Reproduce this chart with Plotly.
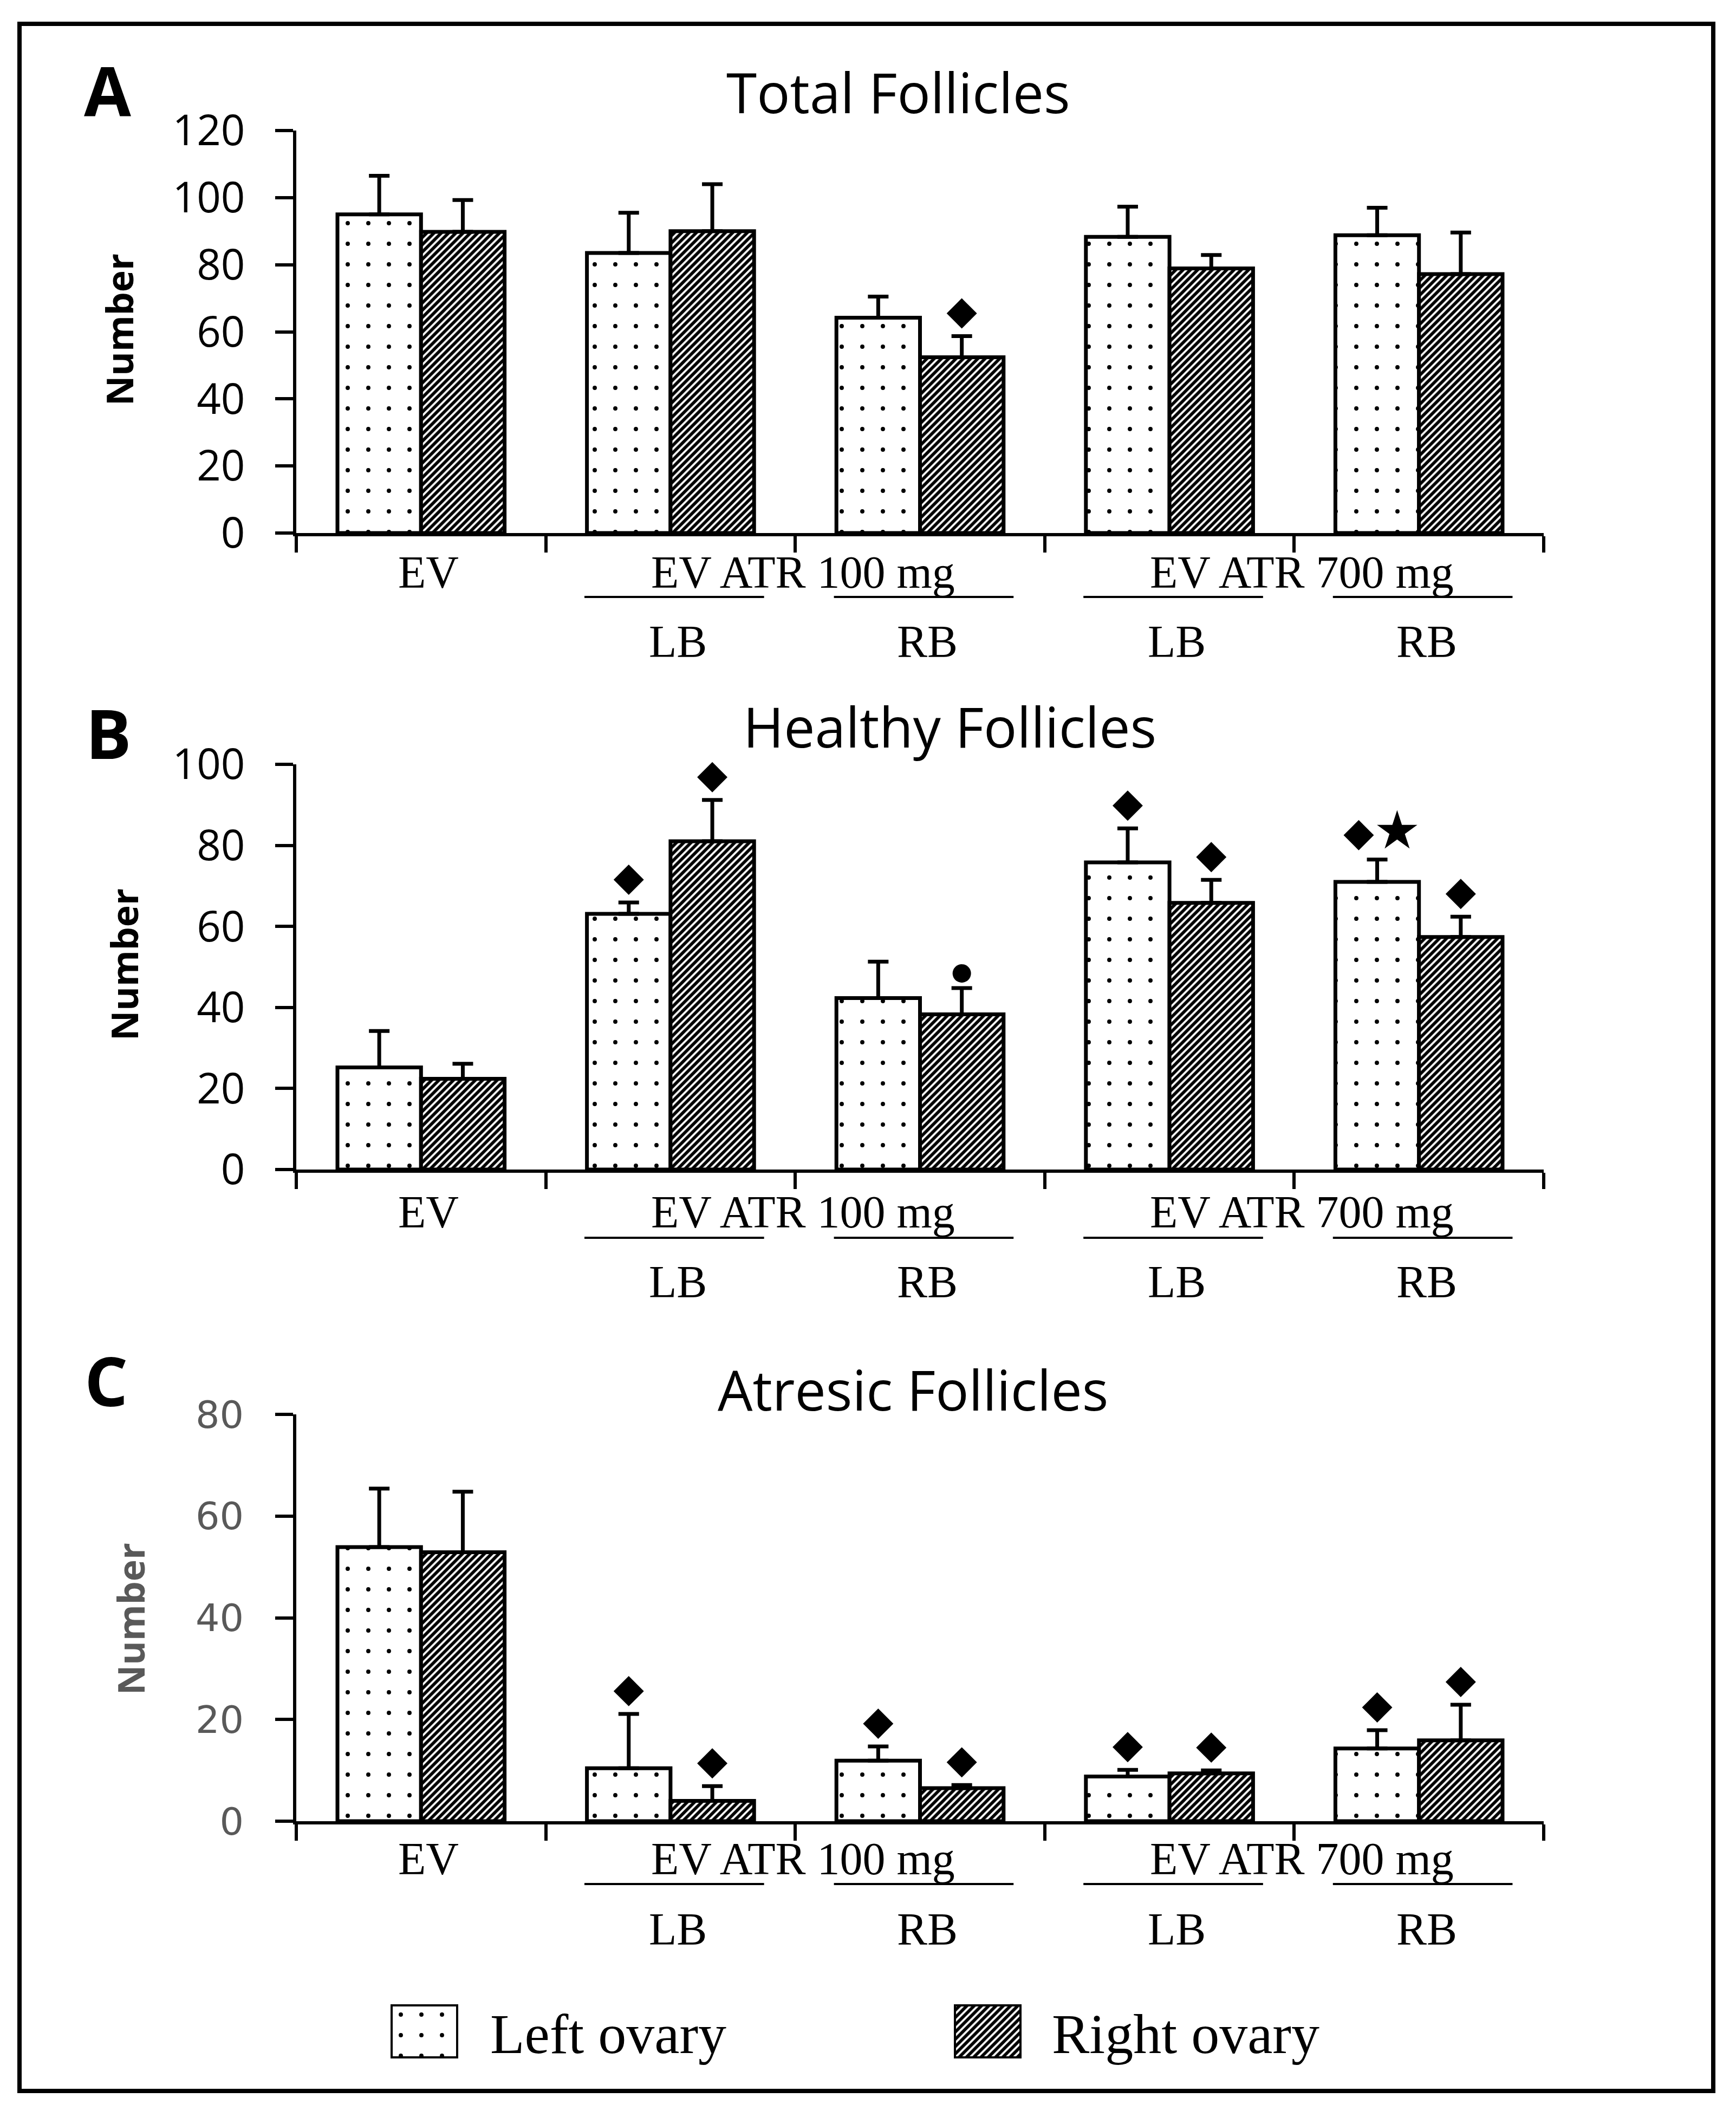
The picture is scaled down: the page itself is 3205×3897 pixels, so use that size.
import plotly.graph_objects as go

W, H = 3205, 3897

# ---------------- data ----------------
categories = ["EV", "EV ATR 100 mg LB", "EV ATR 100 mg RB", "EV ATR 700 mg LB", "EV ATR 700 mg RB"]
group_labels = ["EV ATR 100 mg", "EV ATR 700 mg"]
side_labels = ["LB", "RB", "LB", "RB"]
series_names = ["Left ovary", "Right ovary"]

total_left = [95.0, 83.5, 64.2, 88.3, 88.8]
total_left_err = [11.5, 12.0, 6.3, 9.0, 8.2]
total_right = [89.8, 90.0, 52.4, 78.9, 77.2]
total_right_err = [9.5, 14.0, 6.3, 4.0, 12.4]
total_left_sig = ["", "", "", "", ""]
total_right_sig = ["", "", "d", "", ""]

healthy_left = [25.2, 63.1, 42.3, 75.8, 71.0]
healthy_left_err = [9.0, 2.8, 9.0, 8.4, 5.5]
healthy_right = [22.4, 81.0, 38.3, 65.8, 57.4]
healthy_right_err = [3.7, 10.2, 6.5, 5.7, 5.0]
healthy_left_sig = ["", "d", "", "d", "ds"]
healthy_right_sig = ["", "d", "c", "d", "d"]

atresic_left = [53.9, 10.4, 11.9, 8.8, 14.3]
atresic_left_err = [11.5, 10.7, 2.8, 1.3, 3.6]
atresic_right = [52.9, 4.0, 6.5, 9.4, 15.9]
atresic_right_err = [11.9, 2.9, 0.6, 0.6, 7.0]
atresic_left_sig = ["", "d", "d", "d", "d"]
atresic_right_sig = ["", "d", "d", "d", "d"]

titles = ["Total Follicles", "Healthy Follicles", "Atresic Follicles"]
letters = ["A", "B", "C"]
y_title = "Number"
y_max = [120, 100, 80]
y_dtick = 20

# ---------------- layout geometry (pixels) ----------------
def px(x):
    return x / W

def py(y):
    return 1 - y / H

X0, X1 = 547, 2850
panel_geo = [
    dict(top=241, bot=984, title=(1658, 169), letter=(198, 165), ylab=(219, 609),
         lab=72, uline=118, side=201),
    dict(top=1411, bot=2159, title=(1753, 1341), letter=(200, 1352), ylab=(228, 1780),
         lab=78, uline=126, side=207),
    dict(top=2611, bot=3362, title=(1685, 2564), letter=(196, 2547), ylab=(240, 2989),
         lab=69, uline=116, side=199),
]

BARGAP = 0.33
HALF = (1 - BARGAP) / 4  # centre offset of each bar inside a group
LW = 7

panels = [
    (total_left, total_left_err, total_right, total_right_err, total_left_sig, total_right_sig),
    (healthy_left, healthy_left_err, healthy_right, healthy_right_err, healthy_left_sig, healthy_right_sig),
    (atresic_left, atresic_left_err, atresic_right, atresic_right_err, atresic_left_sig, atresic_right_sig),
]

dots = dict(shape=".", size=38, solidity=0.034, fgcolor="black", bgcolor="white", fillmode="replace")
stripes = dict(shape="/", size=9.5, solidity=0.6, fgcolor="black", bgcolor="white", fillmode="replace")
patterns = [dots, stripes]

fig = go.Figure()
xpos = list(range(len(categories)))
annotations = []
shapes = []

for p, (lv, le, rv, re, ls, rs) in enumerate(panels):
    g = panel_geo[p]
    sfx = "" if p == 0 else str(p + 1)
    xa, ya = "x" + sfx, "y" + sfx
    for s, (vals, errs) in enumerate([(lv, le), (rv, re)]):
        fig.add_trace(go.Bar(
            x=xpos, y=vals, name=series_names[s], xaxis=xa, yaxis=ya,
            marker=dict(color="white", pattern=patterns[s], line=dict(color="black", width=LW)),
            error_y=dict(type="data", symmetric=False, array=errs, arrayminus=[0] * len(errs),
                         color="black", thickness=LW, width=19),
            showlegend=False,
        ))
    ppu = (g["bot"] - g["top"]) / y_max[p]
    mk = {"d": ([], [], "diamond", 43), "s": ([], [], "star", 56), "c": ([], [], "circle", 34)}
    for s, (vals, errs, sig) in enumerate([(lv, le, ls), (rv, re, rs)]):
        sgn = -1 if s == 0 else 1
        for i, code in enumerate(sig):
            if not code:
                continue
            top = vals[i] + errs[i]
            xc = xpos[i] + sgn * HALF
            if code == "d":
                mk["d"][0].append(xc); mk["d"][1].append(top + 42 / ppu)
            elif code == "c":
                mk["c"][0].append(xc); mk["c"][1].append(top + 27 / ppu)
            elif code == "ds":
                mk["d"][0].append(xc - 0.074); mk["d"][1].append(top + 45 / ppu)
                mk["s"][0].append(xc + 0.08); mk["s"][1].append(top + 52 / ppu)
    for key, (mx, my, sym, sz) in mk.items():
        if mx:
            fig.add_trace(go.Scatter(x=mx, y=my, mode="markers", xaxis=xa, yaxis=ya,
                                     marker=dict(symbol=sym, size=sz, color="black", line=dict(width=0)),
                                     cliponaxis=False, showlegend=False, hoverinfo="skip"))

    gray = p == 2
    tickfont = dict(family="DejaVu Sans", size=70, color="#595959") if gray else \
        dict(family="Open Sans", size=78, color="black")
    fig.update_layout({
        ("xaxis" + sfx): dict(domain=[px(X0), px(X1)], anchor=ya, range=[-0.5, len(categories) - 0.5],
                               tickvals=[i - 0.5 for i in range(len(categories) + 1)],
                               showticklabels=False, ticks="outside", ticklen=30, tickwidth=6,
                               tickcolor="black", showline=True, linecolor="black", linewidth=6,
                               showgrid=False, zeroline=False, fixedrange=True, automargin=False),
        ("yaxis" + sfx): dict(domain=[py(g["bot"]), py(g["top"])], anchor=xa, range=[0, y_max[p]],
                               dtick=y_dtick, tick0=0, ticks="outside", ticklen=33, tickwidth=6,
                               tickcolor="black", showline=True, linecolor="black", linewidth=6,
                               showgrid=False, zeroline=False, tickfont=tickfont,
                               ticklabelstandoff=40 if not gray else 44, fixedrange=True,
                               automargin=False),
    })

    # titles, letters, y title
    annotations.append(dict(text=titles[p], x=px(g["title"][0]), y=py(g["title"][1]), xref="paper",
                            yref="paper", showarrow=False, xanchor="center", yanchor="middle",
                            font=dict(family="Open Sans", size=102, color="black")))
    annotations.append(dict(text="<b>" + letters[p] + "</b>", x=px(g["letter"][0]), y=py(g["letter"][1]),
                            xref="paper", yref="paper", showarrow=False, xanchor="center",
                            yanchor="middle", font=dict(family="Open Sans", size=126, color="black")))
    annotations.append(dict(text="<b>" + y_title + "</b>", x=px(g["ylab"][0]), y=py(g["ylab"][1]),
                            xref="paper", yref="paper", showarrow=False, textangle=-90,
                            xanchor="center", yanchor="middle",
                            font=dict(family="Open Sans", size=68, color="#595959" if gray else "black")))

    # category labels
    lab_font = dict(family="Liberation Serif", size=84, color="black")
    dx = 0.03
    annotations.append(dict(text=categories[0], x=xpos[0] + dx, xref=xa, y=py(g["bot"] + g["lab"]),
                            yref="paper", showarrow=False, xanchor="center", yanchor="middle", font=lab_font))
    for k, gl in enumerate(group_labels):
        c1, c2 = xpos[1 + 2 * k], xpos[2 + 2 * k]
        annotations.append(dict(text=gl, x=(c1 + c2) / 2 + dx, xref=xa, y=py(g["bot"] + g["lab"]),
                                yref="paper", showarrow=False, xanchor="center", yanchor="middle",
                                font=lab_font))
    for j, sl in enumerate(side_labels):
        c = xpos[1 + j]
        annotations.append(dict(text=sl, x=c + dx, xref=xa, y=py(g["bot"] + g["side"]), yref="paper",
                                showarrow=False, xanchor="center", yanchor="middle", font=lab_font))
        shapes.append(dict(type="line", xref=xa, yref="paper", x0=c - 0.345, x1=c + 0.375,
                           y0=py(g["bot"] + g["uline"]), y1=py(g["bot"] + g["uline"]),
                           line=dict(color="black", width=4)))

# ---------------- legend (patterned keys) ----------------
leg_boxes = [(721, 846), (1761, 1886)]
leg_text_x = [903, 1940]
LEG_T, LEG_B = 3700, 3800
for s in range(2):
    n = str(4 + s)
    fig.add_trace(go.Bar(x=[0], y=[1], width=[1], xaxis="x" + n, yaxis="y" + n, showlegend=False,
                         marker=dict(color="white", pattern=patterns[s],
                                     line=dict(color="black", width=8)), hoverinfo="skip"))
    fig.update_layout({
        ("xaxis" + n): dict(domain=[px(leg_boxes[s][0]), px(leg_boxes[s][1])], anchor="y" + n,
                             range=[-0.5, 0.5], visible=False, fixedrange=True, automargin=False),
        ("yaxis" + n): dict(domain=[py(LEG_B), py(LEG_T)], anchor="x" + n, range=[0, 1],
                             visible=False, fixedrange=True, automargin=False),
    })
    annotations.append(dict(text=series_names[s], x=px(leg_text_x[s]), y=py(3754), xref="paper",
                            yref="paper", showarrow=False, xanchor="left", yanchor="middle",
                            font=dict(family="Liberation Serif", size=104, color="black")))

# outer frame
shapes.append(dict(type="rect", xref="paper", yref="paper", x0=px(36), x1=px(3163), y0=py(3860),
                   y1=py(44), line=dict(color="black", width=8), layer="above"))

fig.update_layout(
    width=W, height=H, margin=dict(l=0, r=0, t=0, b=0, pad=0, autoexpand=False),
    paper_bgcolor="white", plot_bgcolor="white",
    barmode="group", bargap=BARGAP, bargroupgap=0,
    annotations=annotations, shapes=shapes, showlegend=False,
)

fig.write_html("out.html", config={"displayModeBar": False},
               post_script="document.body.style.margin='0px';")
